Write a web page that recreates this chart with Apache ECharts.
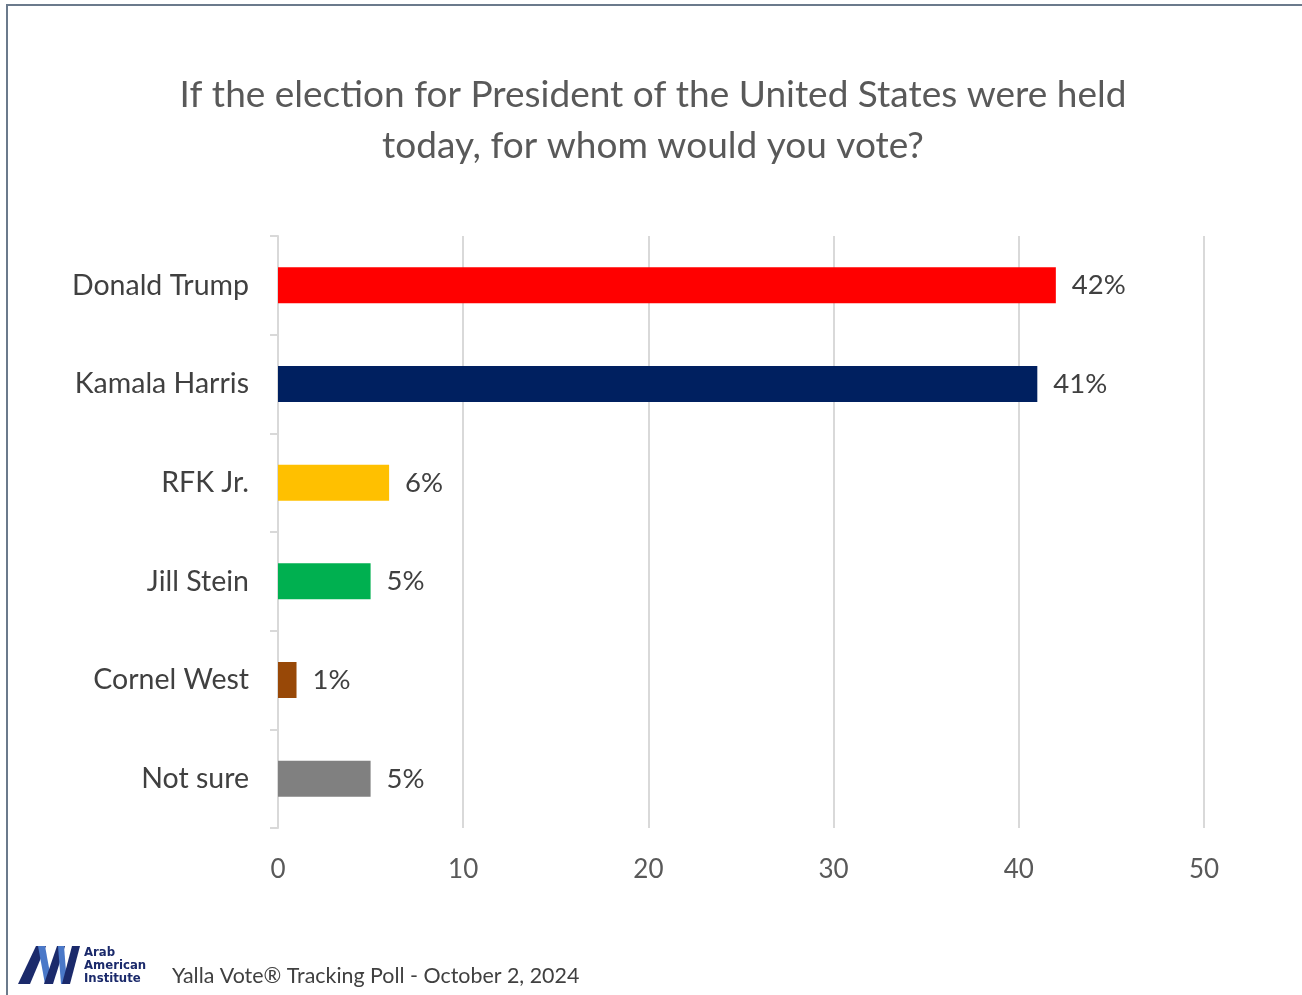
<!DOCTYPE html>
<html><head><meta charset="utf-8">
<script src="https://cdn.jsdelivr.net/npm/echarts@6/dist/echarts.min.js"></script>
<style>html,body{margin:0;padding:0;background:#fff}#c{width:1302px;height:995px}</style>
</head><body><div id="c"></div>
<script>
const categories = ["Donald Trump", "Kamala Harris", "RFK Jr.", "Jill Stein", "Cornel West", "Not sure"];
const values = [42, 41, 6, 5, 1, 5];
const barColors = ["#ff0000", "#002060", "#ffc000", "#00b050", "#984807", "#808080"];
const xTicks = [0, 10, 20, 30, 40, 50];
const titleText = "If the election for President of the United States were held\ntoday, for whom would you vote?";
const footerText = "Yalla Vote\u00ae Tracking Poll - October 2, 2024";

const FONT = "Lato, 'Open Sans', sans-serif";
const chart = echarts.init(document.getElementById('c'), null, {renderer: 'canvas'});
chart.setOption({
  animation: false,
  backgroundColor: '#fff',
  title: {
    text: titleText, left: 648, top: 65, textAlign: 'center',
    textStyle: {fontFamily: FONT, fontSize: 37, fontWeight: 'normal', color: '#595959', lineHeight: 51}
  },
  grid: {left: 278, right: 98, top: 236, bottom: 167, containLabel: false},
  xAxis: {
    type: 'value', min: xTicks[0], max: xTicks[xTicks.length - 1], interval: 10,
    axisLine: {show: false}, axisTick: {show: false},
    splitLine: {show: true, lineStyle: {color: '#d9d9d9', width: 2}},
    axisLabel: {fontFamily: FONT, fontSize: 26, color: '#595959', margin: 29}
  },
  yAxis: {
    type: 'category', data: categories, inverse: true,
    axisLine: {show: true, lineStyle: {color: '#d9d9d9', width: 2}},
    axisTick: {show: true, length: 8, lineStyle: {color: '#d9d9d9', width: 2}},
    axisLabel: {fontFamily: FONT, fontSize: 28.5, color: '#404040', margin: 29}
  },
  series: [{
    type: 'bar', barWidth: 36,
    data: values.map((v, i) => ({value: v, itemStyle: {color: barColors[i]}})),
    label: {show: true, position: 'right', distance: 16, formatter: '{c}%',
      fontFamily: FONT, fontSize: 27.5, color: '#404040'}
  }],
  graphic: [
    {type: 'rect', shape: {x: 7, y: 5, width: 1400, height: 1100}, style: {fill: 'none', stroke: '#6b7a8c', lineWidth: 2}, silent: true},
    {type: 'text', left: 172, top: 966, style: {text: footerText, font: "21.4px " + FONT, fill: '#404040'}},
    {type: 'polygon', shape: {points: [[18,984],[30,984],[46,946],[36,946]]}, style: {fill: '#1b2a6b'}},
    {type: 'polygon', shape: {points: [[38,946],[45,946],[52,984],[45,984]]}, style: {fill: '#4a78c8'}},
    {type: 'polygon', shape: {points: [[44,984],[53,984],[65,946],[57,946]]}, style: {fill: '#1b2a6b'}},
    {type: 'polygon', shape: {points: [[58,946],[64,946],[67,984],[61,984]]}, style: {fill: '#4a78c8'}},
    {type: 'polygon', shape: {points: [[62,984],[70,984],[80,946],[72,946]]}, style: {fill: '#1b2a6b'}},
    {type: 'text', left: 84, top: 946, style: {text: 'Arab\nAmerican\nInstitute', font: "bold 13px 'DejaVu Sans Condensed', 'Liberation Sans Narrow', sans-serif", fill: '#1b2a6b', lineHeight: 13}}
  ]
});
</script></body></html>
